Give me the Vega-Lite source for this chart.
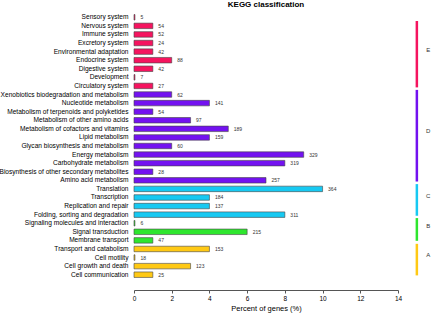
{
  "$schema": "https://vega.github.io/schema/vega-lite/v6.json",
  "autosize": "none",
  "width": 264,
  "height": 266,
  "padding": {"left": 134, "top": 13, "right": 33, "bottom": 35},
  "title": {"text": "KEGG classification", "fontSize": 8, "fontWeight": "bold", "font": "Liberation Sans", "anchor": "middle", "offset": 4, "color": "#000"},
  "config": {
    "view": {"stroke": null},
    "font": "Liberation Sans",
    "axisX": {"labelOverlap": false, "labelBound": false, "labelFlush": false, "grid": false, "offset": 11, "domainColor": "#555", "tickColor": "#555", "tickSize": 3, "labelFontSize": 6.5, "labelColor": "#000", "labelPadding": 2, "titleFontSize": 7.5, "titleFontWeight": "normal", "titleColor": "#000", "titlePadding": 3}
  },
  "datasets": {
    "rows": [
      {"name": "Sensory system", "value": 0.05, "count": 5, "group": "E"},
      {"name": "Nervous system", "value": 1, "count": 54, "group": "E"},
      {"name": "Immune system", "value": 1, "count": 52, "group": "E"},
      {"name": "Excretory system", "value": 1, "count": 24, "group": "E"},
      {"name": "Environmental adaptation", "value": 1, "count": 42, "group": "E"},
      {"name": "Endocrine system", "value": 2, "count": 88, "group": "E"},
      {"name": "Digestive system", "value": 1, "count": 42, "group": "E"},
      {"name": "Development", "value": 0.05, "count": 7, "group": "E"},
      {"name": "Circulatory system", "value": 1, "count": 27, "group": "E"},
      {"name": "Xenobiotics biodegradation and metabolism", "value": 2, "count": 62, "group": "D"},
      {"name": "Nucleotide metabolism", "value": 4, "count": 141, "group": "D"},
      {"name": "Metabolism of terpenoids and polyketides", "value": 1, "count": 54, "group": "D"},
      {"name": "Metabolism of other amino acids", "value": 3, "count": 97, "group": "D"},
      {"name": "Metabolism of cofactors and vitamins", "value": 5, "count": 189, "group": "D"},
      {"name": "Lipid metabolism", "value": 4, "count": 159, "group": "D"},
      {"name": "Glycan biosynthesis and metabolism", "value": 2, "count": 60, "group": "D"},
      {"name": "Energy metabolism", "value": 9, "count": 329, "group": "D"},
      {"name": "Carbohydrate metabolism", "value": 8, "count": 319, "group": "D"},
      {"name": "Biosynthesis of other secondary metabolites", "value": 1, "count": 28, "group": "D"},
      {"name": "Amino acid metabolism", "value": 7, "count": 257, "group": "D"},
      {"name": "Translation", "value": 10, "count": 364, "group": "C"},
      {"name": "Transcription", "value": 4, "count": 184, "group": "C"},
      {"name": "Replication and repair", "value": 4, "count": 137, "group": "C"},
      {"name": "Folding, sorting and degradation", "value": 8, "count": 311, "group": "C"},
      {"name": "Signaling molecules and interaction", "value": 0.05, "count": 6, "group": "B"},
      {"name": "Signal transduction", "value": 6, "count": 215, "group": "B"},
      {"name": "Membrane transport", "value": 1, "count": 47, "group": "B"},
      {"name": "Transport and catabolism", "value": 4, "count": 153, "group": "A"},
      {"name": "Cell motility", "value": 0.05, "count": 18, "group": "A"},
      {"name": "Cell growth and death", "value": 3, "count": 123, "group": "A"},
      {"name": "Cell communication", "value": 1, "count": 25, "group": "A"}
    ],
    "groups": [
      {"group": "E", "start": 0.93, "end": 8.67, "labelY": 4.3},
      {"group": "D", "start": 8.96, "end": 19.64, "labelY": 13.8},
      {"group": "C", "start": 19.94, "end": 23.63, "labelY": 21.3},
      {"group": "B", "start": 23.9, "end": 26.55, "labelY": 24.8},
      {"group": "A", "start": 26.9, "end": 30.58, "labelY": 28.2}
    ]
  },
  "layer": [
    {
      "data": {"name": "rows"},
      "mark": {"type": "bar", "stroke": "#444", "strokeWidth": 0.6},
      "encoding": {
        "y": {"field": "name", "type": "nominal", "sort": null,
          "scale": {"paddingInner": 0.36, "paddingOuter": 0.18},
          "axis": {"title": null, "domain": false, "ticks": false, "labelFontSize": 6.6, "labelPadding": 6, "labelColor": "#000", "labelLimit": 0}},
        "x": {"field": "value", "type": "quantitative",
          "scale": {"domain": [0, 14], "nice": false},
          "axis": {"title": "Percent of genes (%)", "tickCount": 7, "tickMinStep": 2, "labelOverlap": false, "labelBound": false}},
        "color": {"field": "group", "type": "nominal",
          "scale": {"domain": ["A", "B", "C", "D", "E"], "range": ["#FFC914", "#2EE62E", "#17C9F2", "#7312F0", "#F5145F"]},
          "legend": null}
      }
    },
    {
      "data": {"name": "rows"},
      "mark": {"type": "text", "align": "left", "baseline": "middle", "dx": 5.5, "fontSize": 5, "color": "#333"},
      "encoding": {
        "y": {"field": "name", "type": "nominal", "sort": null, "scale": {"paddingInner": 0.36, "paddingOuter": 0.18}, "axis": null},
        "x": {"field": "value", "type": "quantitative"},
        "text": {"field": "count", "type": "quantitative"}
      }
    },
    {
      "data": {"name": "groups"},
      "mark": {"type": "rule", "strokeWidth": 2.5},
      "encoding": {
        "x": {"datum": 15, "type": "quantitative"},
        "y": {"field": "start", "type": "quantitative", "scale": {"domain": [0, 31], "nice": false, "zero": false, "reverse": true}, "axis": null},
        "y2": {"field": "end"},
        "color": {"field": "group", "type": "nominal", "scale": {"domain": ["A", "B", "C", "D", "E"], "range": ["#FFC914", "#2EE62E", "#17C9F2", "#7312F0", "#F5145F"]}, "legend": null}
      }
    },
    {
      "data": {"name": "groups"},
      "mark": {"type": "text", "align": "center", "baseline": "middle", "fontSize": 6, "color": "#333"},
      "encoding": {
        "x": {"datum": 15.6, "type": "quantitative"},
        "y": {"field": "labelY", "type": "quantitative", "scale": {"domain": [0, 31], "nice": false, "zero": false, "reverse": true}, "axis": null},
        "text": {"field": "group", "type": "nominal"}
      }
    }
  ],
  "resolve": {"scale": {"y": "independent"}, "axis": {"y": "independent"}}
}
